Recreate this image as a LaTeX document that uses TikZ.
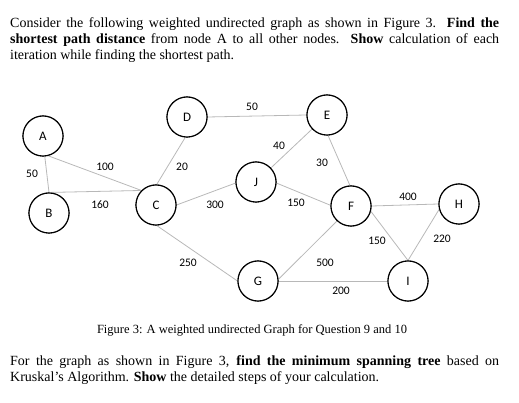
\documentclass[tikz,border=0pt]{standalone}
\usepackage{fontspec}
\setmainfont{Liberation Serif}
\newfontfamily\lblfont{Carlito}
\begin{document}
\begin{tikzpicture}[x=1pt,y=-1pt,
  vtx/.style={circle,draw=black,line width=1.1pt,fill=white,minimum size=40pt,inner sep=0pt,font=\lblfont\fontsize{13}{15}\selectfont},
  edge/.style={draw=black!28,line width=0.8pt},
  wlabel/.style={font=\lblfont\fontsize{11.5}{13}\selectfont,inner sep=0pt},
  para/.style={anchor=north west,text width=489pt,align=justify,inner sep=0pt,font=\fontsize{14}{16}\selectfont}]
\useasboundingbox (0,0) rectangle (519,403);
\node[vtx] (A) at (43,136) {A};
\node[vtx] (B) at (49,213) {B};
\node[vtx] (C) at (156,205) {C};
\node[vtx] (D) at (187,117) {D};
\node[vtx] (J) at (256,182) {J};
\node[vtx] (E) at (327,115) {E};
\node[vtx] (F) at (351,206) {F};
\node[vtx] (H) at (459,204) {H};
\node[vtx] (G) at (258,281) {G};
\node[vtx] (I) at (408,281) {I};
\path[edge] (A.-85) -- (B.north);
\path[edge] (A.-75) -- (C.135);
\path[edge] (B.north) -- (C.135);
\path[edge] (C.88) -- (D.-95);
\path[edge] (D.east) -- (E.west);
\path[edge] (C.0) -- (J.-177);
\path[edge] (J) -- (E);
\path[edge] (E.-87) -- (F.93);
\path[edge] (J.-3) -- (F.178);
\path[edge] (F.0) -- (H.180);
\path[edge] (F.-15) -- (I.north);
\path[edge] (H.-165) -- (I.north);
\path[edge] (C.-88) -- (G.180);
\path[edge] (F.-133) -- (G.5);
\path[edge] (G.0) -- (I.180);
% redraw nodes on top of the edges
\foreach \n/\t in {A/A,B/B,C/C,D/D,J/J,E/E,F/F,H/H,G/G,I/I}{
  \node[vtx] at (\n) {\t};
}
% weights
\node[wlabel] (wab) at (32,174) {50};
\node[wlabel] (wac) at (105,167) {100};
\node[wlabel] (wbc) at (100,205) {160};
\node[wlabel] (wcd) at (182,167) {20};
\node[wlabel] (wde) at (252,107) {50};
\node[wlabel] (wcj) at (215,205) {300};
\node[wlabel] (wje) at (279,146) {40};
\node[wlabel] (wef) at (322,163) {30};
\node[wlabel] (wjf) at (296,203) {150};
\node[wlabel] (wfh) at (408,197) {400};
\node[wlabel] (wfi) at (377,241) {150};
\node[wlabel] (whi) at (442,239) {220};
\node[wlabel] (wcg) at (188,263) {250};
\node[wlabel] (wfg) at (325,263) {500};
\node[wlabel] (wgi) at (341,291) {200};
% texts
\node[para] (q1) at (10,17) {Consider the following weighted undirected graph as shown in Figure 3. \textbf{Find the}\linebreak \textbf{shortest path distance} from node A to all other nodes. \textbf{Show} calculation of each\linebreak iteration while finding the shortest path.};
\node[font=\fontsize{12.5}{14}\selectfont,inner sep=0pt] (cap) at (252,330) {Figure 3: A weighted undirected Graph for Question 9 and 10};
\node[para] (q2) at (10,355) {For the graph as shown in Figure 3, \textbf{find the minimum spanning tree} based on\linebreak Kruskal's Algorithm. \textbf{Show} the detailed steps of your calculation.};
\end{tikzpicture}
\end{document}
